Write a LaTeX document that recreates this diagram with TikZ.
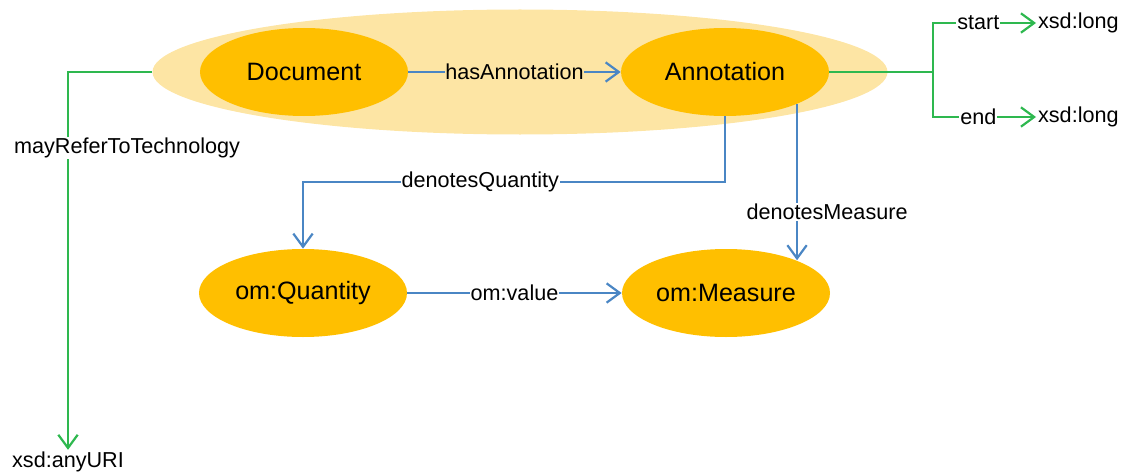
\documentclass[tikz,border=0pt]{standalone}
\usepackage{fontspec}
\setmainfont{Liberation Sans}
\usepackage{xcolor}
\usetikzlibrary{arrows.meta,positioning,shapes}
\definecolor{colorclass}{HTML}{FFBF00}
\definecolor{colorgroup}{HTML}{FDE5A4}
\definecolor{colorobj}{HTML}{4A86C4}
\definecolor{colordata}{HTML}{2EB84F}
\tikzstyle{every node}=[inner sep=1pt]
\tikzstyle{class}=[ellipse, fill=colorclass, minimum width=4.16cm, minimum height=1.76cm, inner sep=0pt, font=\fontsize{14.3}{17}\selectfont]
\tikzstyle{group}=[ellipse, fill=colorgroup, minimum width=14.7cm, minimum height=2.5cm]
\tikzstyle{literal}=[inner sep=1pt, font=\fontsize{12.3}{14}\selectfont]
\tikzstyle{prop}=[fill=white, inner sep=0.5pt, font=\fontsize{12.3}{14}\selectfont]
\tikzstyle{objprop}=[draw=colorobj, line width=1.25pt, ->]
\tikzstyle{dataprop}=[draw=colordata, line width=1.25pt, ->]

\begin{document}
\begin{tikzpicture}[>={Straight Barb[length=7.5pt,width=11pt]}]
	\useasboundingbox (0, 0) rectangle (22.44, -9.5);
	
	\node[group] at (10.4, -1.44) (grp) {};
	
	\node[class] at (6.08, -1.44) (doc) {Document};
	
	\node[class] at (14.5, -1.44) (ann) {Annotation};
	
	\node[class] at (6.06, -5.86) (qty) {om:Quantity};
	
	\node[class] at (14.52, -5.86) (msr) {om:Measure};
	
	\node[literal, anchor=west] at (20.72, -0.46) (lstart) {xsd:long};
	\node[literal, anchor=west] at (20.72, -2.34) (lend) {xsd:long};
	\node[literal] at (1.36, -9.24) (luri) {xsd:anyURI};
	
	\coordinate (fork) at (18.66, -1.44);
	
	\draw[objprop] (doc) -- node[prop, fill=colorgroup]{hasAnnotation} (ann);
	\draw[objprop] (qty) -- node[prop]{om:value} (msr);
	\draw[objprop] (ann.south) -- ++(0, -1.32) -| node[prop, pos=0.29]{denotesQuantity} (qty.north);
	\draw[objprop] (ann.-24) -- node[prop, pos=0.69, xshift=0.6cm]{denotesMeasure} (msr.25 -| ann.-24);
	
	% literals
	\draw[dataprop] (grp.west) -| node[prop, pos=0.6, xshift=1.18cm]{mayReferToTechnology} (luri.north);
	\draw[dataprop, -] (ann.east) -- (fork);
	\draw[dataprop] (fork) |- node[prop, pos=0.72]{start} (lstart.west);
	\draw[dataprop] (fork) |- node[prop, pos=0.72]{end} (lend.west);
	
\end{tikzpicture}
\end{document}
